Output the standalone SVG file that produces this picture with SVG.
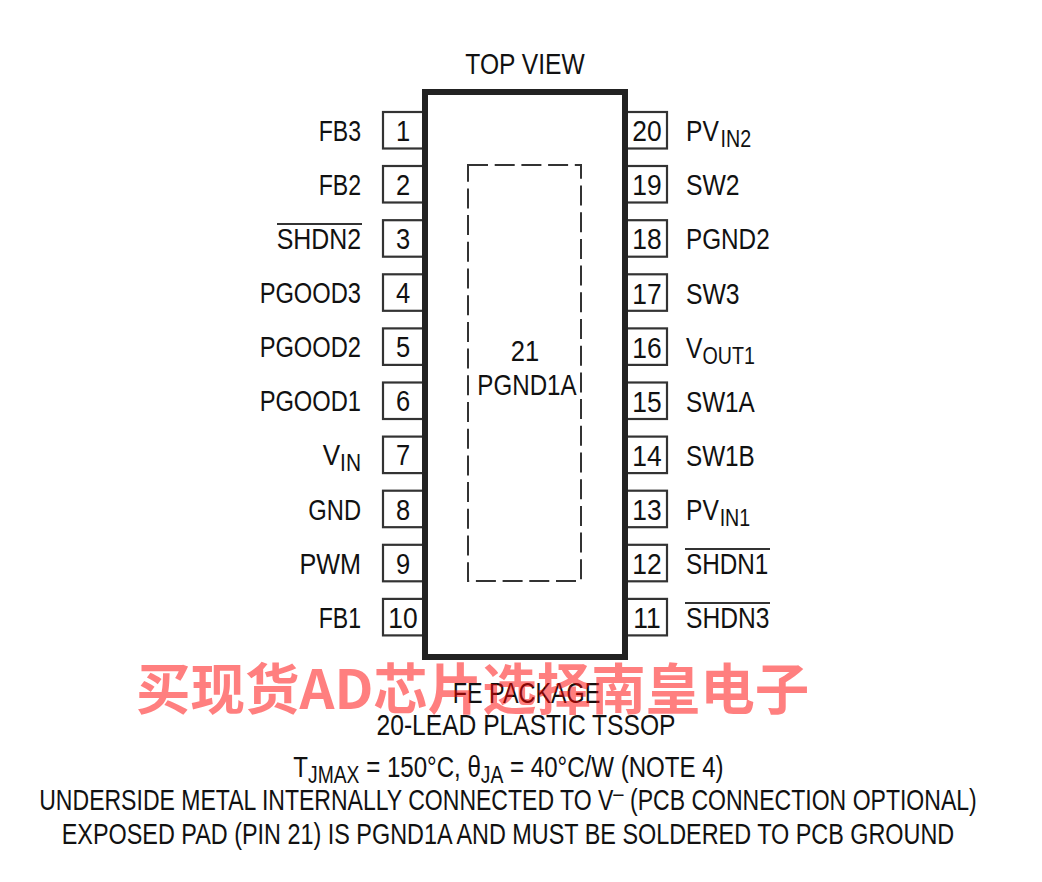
<svg xmlns="http://www.w3.org/2000/svg" width="1042" height="882" viewBox="0 0 1042 882">
<style>
text{font-family:"Liberation Sans",Arial,sans-serif;font-size:30px;fill:#111}
.m{text-anchor:middle}.e{text-anchor:end}
.s{font-size:24px}
.pin{fill:#fff;stroke:#333;stroke-width:2.2}
.bar{stroke:#333;stroke-width:2;fill:none}
</style>
<rect width="1042" height="882" fill="#fff"/>
<text class="m" transform="translate(525 73.500) scale(.82 1)">TOP VIEW</text>
<g id="pins-left">
<g id="pin1"><rect class="pin" x="383" y="112" width="42" height="36.5"/><text class="m" transform="translate(403 141) scale(.85 1)">1</text><text class="e" transform="translate(361 141) scale(.77 1)">FB3</text></g>
<g id="pin2"><rect class="pin" x="383" y="166" width="42" height="36.5"/><text class="m" transform="translate(403 195) scale(.85 1)">2</text><text class="e" transform="translate(361 195) scale(.77 1)">FB2</text></g>
<g id="pin3"><rect class="pin" x="383" y="220.200" width="42" height="36.5"/><text class="m" transform="translate(403 249) scale(.85 1)">3</text><text class="e" transform="translate(361 249) scale(.83 1)">SHDN2</text><path class="bar" d="M277 224H362"/></g>
<g id="pin4"><rect class="pin" x="383" y="274.300" width="42" height="36.5"/><text class="m" transform="translate(403 303) scale(.85 1)">4</text><text class="e" transform="translate(361 303) scale(.79 1)">PGOOD3</text></g>
<g id="pin5"><rect class="pin" x="383" y="328.400" width="42" height="36.500"/><text class="m" transform="translate(403 357) scale(.85 1)">5</text><text class="e" transform="translate(361 357) scale(.79 1)">PGOOD2</text></g>
<g id="pin6"><rect class="pin" x="383" y="382.500" width="42" height="36.500"/><text class="m" transform="translate(403 411) scale(.85 1)">6</text><text class="e" transform="translate(361 411) scale(.79 1)">PGOOD1</text></g>
<g id="pin7"><rect class="pin" x="383" y="436.600" width="42" height="36.500"/><text class="m" transform="translate(403 465) scale(.85 1)">7</text><text class="e" transform="translate(361 465) scale(.87 1)">V<tspan class="s" dy="6">IN</tspan></text></g>
<g id="pin8"><rect class="pin" x="383" y="490.700" width="42" height="36.500"/><text class="m" transform="translate(403 520) scale(.85 1)">8</text><text class="e" transform="translate(361 520) scale(.79 1)">GND</text></g>
<g id="pin9"><rect class="pin" x="383" y="544.800" width="42" height="36.500"/><text class="m" transform="translate(403 574) scale(.85 1)">9</text><text class="e" transform="translate(361 574) scale(.84 1)">PWM</text></g>
<g id="pin10"><rect class="pin" x="383" y="598.900" width="42" height="36.500"/><text class="m" transform="translate(403 628) scale(.88 1)">10</text><text class="e" transform="translate(361 628) scale(.77 1)">FB1</text></g>
</g>
<g id="pins-right">
<g id="pin20"><rect class="pin" x="625" y="112" width="42" height="36.5"/><text class="m" transform="translate(647 141) scale(.88 1)">20</text><text transform="translate(686 141) scale(.82 1)">PV<tspan class="s" dy="6" dx="2">IN2</tspan></text></g>
<g id="pin19"><rect class="pin" x="625" y="166" width="42" height="36.5"/><text class="m" transform="translate(647 195) scale(.88 1)">19</text><text transform="translate(686 195) scale(.825 1)">SW2</text></g>
<g id="pin18"><rect class="pin" x="625" y="220.200" width="42" height="36.5"/><text class="m" transform="translate(647 249) scale(.88 1)">18</text><text transform="translate(686 249) scale(.81 1)">PGND2</text></g>
<g id="pin17"><rect class="pin" x="625" y="274.300" width="42" height="36.5"/><text class="m" transform="translate(647 304) scale(.88 1)">17</text><text transform="translate(686 304) scale(.825 1)">SW3</text></g>
<g id="pin16"><rect class="pin" x="625" y="328.400" width="42" height="36.5"/><text class="m" transform="translate(647 358) scale(.88 1)">16</text><text transform="translate(686 358) scale(.82 1)">V<tspan class="s" dy="6">OUT1</tspan></text></g>
<g id="pin15"><rect class="pin" x="625" y="382.500" width="42" height="36.5"/><text class="m" transform="translate(647 412) scale(.88 1)">15</text><text transform="translate(686 412) scale(.81 1)">SW1A</text></g>
<g id="pin14"><rect class="pin" x="625" y="436.600" width="42" height="36.5"/><text class="m" transform="translate(647 466) scale(.88 1)">14</text><text transform="translate(686 466) scale(.81 1)">SW1B</text></g>
<g id="pin13"><rect class="pin" x="625" y="490.700" width="42" height="36.5"/><text class="m" transform="translate(647 520) scale(.88 1)">13</text><text transform="translate(686 520) scale(.82 1)">PV<tspan class="s" dy="6" dx="1">IN1</tspan></text></g>
<g id="pin12"><rect class="pin" x="625" y="544.800" width="42" height="36.5"/><text class="m" transform="translate(647 574) scale(.88 1)">12</text><text transform="translate(686 574) scale(.81 1)">SHDN1</text><path class="bar" d="M685 549H770"/></g>
<g id="pin11"><rect class="pin" x="625" y="598.900" width="42" height="36.5"/><text class="m" transform="translate(647 628) scale(.88 1)">11</text><text transform="translate(686 628) scale(.82 1)">SHDN3</text><path class="bar" d="M685 603H770"/></g>
</g>
<g id="package"><rect x="425" y="92" width="200" height="565" fill="none" stroke="#222" stroke-width="6"/></g>
<g id="pad21"><rect x="468" y="165" width="113" height="416" fill="none" stroke="#333" stroke-width="2" stroke-dasharray="20 6.700"/>
<text class="m" transform="translate(525 361) scale(.85 1)">21</text><text class="m" transform="translate(527 395) scale(.805 1)">PGND1A</text></g>
<g id="caption">
<text class="m" transform="translate(526.500 703) scale(.78 1)">FE PACKAGE</text>
<text class="m" transform="translate(526 735) scale(.82 1)">20-LEAD PLASTIC TSSOP</text>
<text class="m" transform="translate(508.500 777) scale(.803 1)">T<tspan class="s" dy="6">JMAX</tspan><tspan dy="-6"> = 150°C, θ</tspan><tspan class="s" dy="6">JA</tspan><tspan dy="-6"> = 40°C/W (NOTE 4)</tspan></text>
<text class="m" transform="translate(508 810) scale(.768 1)">UNDERSIDE METAL INTERNALLY CONNECTED TO V<tspan class="s" dy="-9">–</tspan><tspan dy="9"> (PCB CONNECTION OPTIONAL)</tspan></text>
<text class="m" transform="translate(508 844) scale(.78 1)">EXPOSED PAD (PIN 21) IS PGND1A AND MUST BE SOLDERED TO PCB GROUND</text>
</g>
<text id="watermark" x="136" y="709" style="font-family:'Noto Sans CJK SC',sans-serif;font-weight:700;font-size:54.500px;fill:#ff0000;fill-opacity:.5">买现货AD芯片选择南皇电子</text>
</svg>
